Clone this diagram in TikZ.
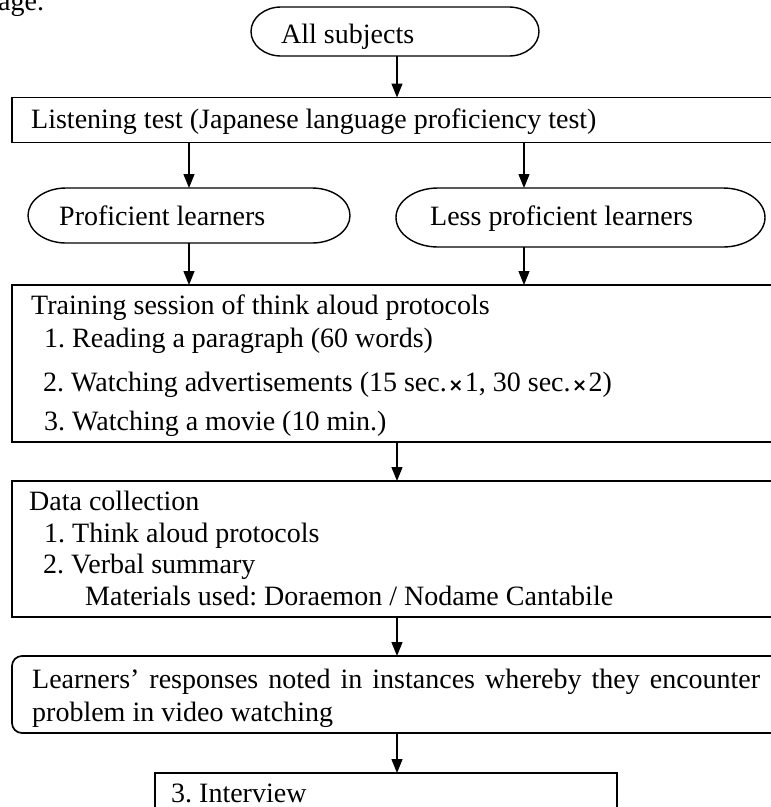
\documentclass[tikz,border=0pt]{standalone}
\usepackage{fontspec}
\setmainfont{Liberation Serif}
\newfontfamily\djv{DejaVu Sans}
\usetikzlibrary{arrows.meta}
\newcommand\drawpill[3]{%
  \draw[pillline] ([xshift=#2]#1.north west) -- ([xshift=-#2]#1.north east)
    arc[start angle=90,end angle=-90,x radius=#2,y radius=#3]
    -- ([xshift=#2]#1.south west)
    arc[start angle=-90,end angle=-270,x radius=#2,y radius=#3] -- cycle;}
\newcommand\tms{\kern1.5pt{\djv\bfseries\fontsize{18}{18}\selectfont ×}\kern1.5pt}
\begin{document}
\frenchspacing
\begin{tikzpicture}[x=1pt,y=-1pt,
  txt/.style={anchor=base west,inner sep=0pt,font=\fontsize{28}{33}\selectfont\frenchspacing},
  frame/.style={draw,line width=1.7pt,inner sep=0pt,outer sep=0pt},
  shapebox/.style={inner sep=0pt,outer sep=0pt},
  arr/.style={line width=1.3pt,-{Triangle[width=11pt,length=14pt]}},
  pillline/.style={line width=1.4pt}]
\useasboundingbox (0,0) rectangle (771,807);
\clip (0,0) rectangle (771,807);

% fragment of preceding text
\node[txt] (frag) at (-2,10) {age.};

% All subjects
\node[shapebox,minimum width=288pt,minimum height=49pt] (all) at (395,31.5) {};
\drawpill{all}{30pt}{24.5pt}
\node[txt] (allt) at (281,43) {All subjects};

% Listening test
\node[frame,minimum width=778pt,minimum height=45pt] (listen) at (401,120) {};
\node[txt] (listent) at (31,128) {Listening test (Japanese language proficiency test)};

% Proficient / Less proficient
\node[shapebox,minimum width=322pt,minimum height=55pt] (prof) at (189,215.5) {};
\drawpill{prof}{38pt}{27.5pt}
\node[txt] (proft) at (59,225) {Proficient learners};

\node[shapebox,minimum width=369pt,minimum height=59pt] (less) at (580.5,217.5) {};
\drawpill{less}{42pt}{29.5pt}
\node[txt] (lesst) at (430,225) {Less proficient learners};

% Training session
\node[frame,minimum width=778pt,minimum height=157pt] (train) at (401,363.5) {};
\node[txt] (tr0) at (31,314) {Training session of think aloud protocols};
\node[txt] (tr1) at (44,347) {1. Reading a paragraph (60 words)};
\node[txt] (tr2) at (43,391) {2. Watching advertisements (15 sec.\tms1, 30 sec.\tms2)};
\node[txt] (tr3) at (44,430) {3. Watching a movie (10 min.)};

% Data collection
\node[frame,minimum width=778pt,minimum height=136pt] (data) at (401,549) {};
\node[txt] (d0) at (29,510) {Data collection};
\node[txt] (d1) at (44,542) {1. Think aloud protocols};
\node[txt] (d2) at (43,573) {2. Verbal summary};
\node[txt] (d3) at (85,605) {Materials used: Doraemon / Nodame Cantabile};

% Learners' responses
\node[frame,rounded corners=10pt,minimum width=778pt,minimum height=77pt] (learn) at (401,694.5) {};
\node[txt] (l1) at (32,688) {\makebox[728pt][s]{Learners’ responses noted in instances whereby they encounter}};
\node[txt] (l2) at (32,721) {problem in video watching};

% Interview
\node[frame,minimum width=462pt,minimum height=70pt] (inter) at (386,808) {};
\node[txt] (it) at (171,802) {3. Interview};

% connectors
\coordinate (cx) at (397,0);
\coordinate (lx) at (189,0);
\coordinate (rx) at (524,0);
\draw[arr] (cx |- all.south) -- (cx |- listen.north);
\draw[arr] (lx |- listen.south) -- (lx |- prof.north);
\draw[arr] (rx |- listen.south) -- (rx |- less.north);
\draw[arr] (lx |- prof.south) -- (lx |- train.north);
\draw[arr] (rx |- less.south) -- (rx |- train.north);
\draw[arr] (cx |- train.south) -- (cx |- data.north);
\draw[arr] (cx |- data.south) -- (cx |- learn.north);
\draw[arr] (cx |- learn.south) -- (cx |- inter.north);
\end{tikzpicture}
\end{document}
